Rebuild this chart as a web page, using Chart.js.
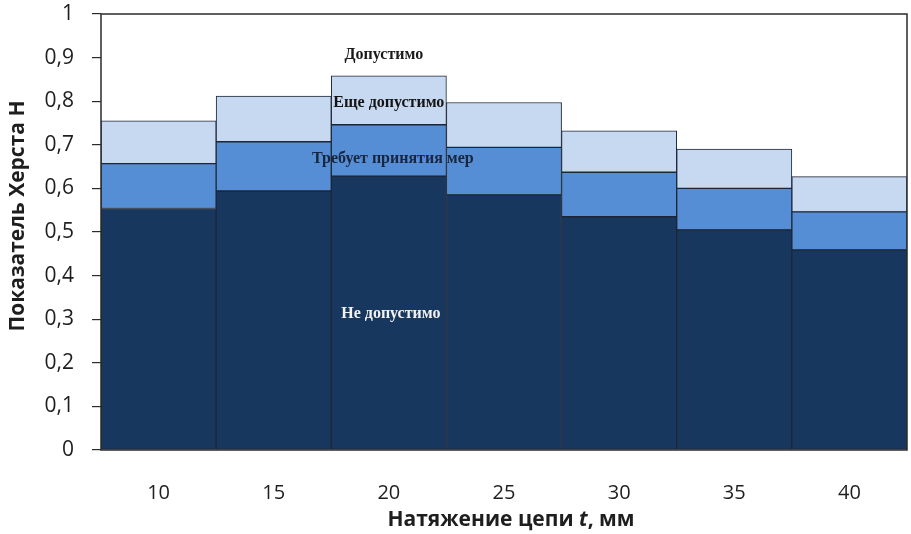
<!DOCTYPE html>
<html>
<head>
<meta charset="utf-8">
<script src="https://cdn.jsdelivr.net/npm/chart.js@4/dist/chart.umd.min.js"></script>
<style>
  html, body { margin: 0; padding: 0; background: #ffffff; }
  #wrap { width: 911px; height: 534px; position: relative; }
</style>
</head>
<body>
<div id="wrap"><canvas id="chart"></canvas></div>
<script>
// Chain tension t, mm
const categories = ['10', '15', '20', '25', '30', '35', '40'];

// Upper boundary of each zone of the Hurst exponent H
const notAllowedTop   = [0.554, 0.594, 0.628, 0.585, 0.535, 0.505, 0.459];
const actionTop       = [0.657, 0.707, 0.746, 0.694, 0.637, 0.600, 0.546];
const stillAllowedTop = [0.755, 0.812, 0.858, 0.797, 0.732, 0.690, 0.627];

// Y axis tick values
const yTickValues = [0, 0.1, 0.2, 0.3, 0.4, 0.5, 0.6, 0.7, 0.8, 0.9, 1];

// Zone captions, written inside the 20 mm column
const zoneNames = ['Допустимо', 'Еще допустимо', 'Требует принятия мер', 'Не допустимо'];

const zoneCaptionStyle = [
  { value: 0.906, dx: -5, color: '#1a1a1a' },
  { value: 0.796, dx: 0,  color: '#141414' },
  { value: 0.668, dx: 4,  color: '#18263f' },
  { value: 0.312, dx: 2,  color: '#f2f2f2' }
];

const COLORS = {
  dark: '#17375E',
  mid: '#558ED5',
  light: '#C6D9F1',
  edge: '#1d2636',
  frame: '#2b2b2b',
  text: '#1e1e1e'
};

const SANS = '"Open Sans", Lato, sans-serif';

const floating = (lows, highs) => highs.map((h, i) => [lows ? lows[i] : 0, h]);

const barStyle = {
  borderColor: COLORS.edge,
  borderWidth: 1,
  borderSkipped: false,
  barPercentage: 1,
  categoryPercentage: 1
};

const frameAndText = {
  id: 'frameAndText',
  afterDatasetsDraw(chart) {
    const { ctx, chartArea: a, scales } = chart;

    // plot frame
    ctx.save();
    ctx.strokeStyle = COLORS.frame;
    ctx.lineWidth = 1.5;
    ctx.strokeRect(a.left, a.top, a.right - a.left, a.bottom - a.top);
    ctx.restore();

    // zone captions
    ctx.save();
    ctx.font = 'bold 16px "Liberation Serif", "Times New Roman", serif';
    ctx.textAlign = 'center';
    ctx.textBaseline = 'middle';
    const cx = scales.x.getPixelForValue(2);
    zoneNames.forEach((name, i) => {
      const s = zoneCaptionStyle[i];
      ctx.fillStyle = s.color;
      ctx.fillText(name, cx + s.dx, scales.y.getPixelForValue(s.value));
    });
    ctx.restore();
  },
  afterDraw(chart) {
    const { ctx, chartArea: a } = chart;
    ctx.save();
    ctx.fillStyle = COLORS.text;
    ctx.textBaseline = 'middle';

    // y axis title
    ctx.save();
    ctx.translate(18, (a.top + a.bottom) / 2 - 16);
    ctx.rotate(-Math.PI / 2);
    ctx.font = 'bold 21px ' + SANS;
    ctx.textAlign = 'center';
    ctx.fillText('Показатель Херста Н', 0, 0);
    ctx.restore();

    // x axis title with italic variable
    const parts = [
      { t: 'Натяжение цепи ', f: 'bold 21px ' + SANS },
      { t: 't', f: 'italic bold 21px ' + SANS },
      { t: ', мм', f: 'bold 21px ' + SANS }
    ];
    let total = 0;
    parts.forEach(p => { ctx.font = p.f; p.w = ctx.measureText(p.t).width; total += p.w; });
    let x = 511 - total / 2;
    ctx.textAlign = 'left';
    parts.forEach(p => { ctx.font = p.f; ctx.fillText(p.t, x, 520); x += p.w; });
    ctx.restore();
  }
};

new Chart(document.getElementById('chart'), {
  type: 'bar',
  data: {
    labels: categories,
    datasets: [
      Object.assign({ label: zoneNames[3], data: floating(null, notAllowedTop), backgroundColor: COLORS.dark }, barStyle),
      Object.assign({ label: zoneNames[2], data: floating(notAllowedTop, actionTop), backgroundColor: COLORS.mid }, barStyle),
      Object.assign({ label: zoneNames[1], data: floating(actionTop, stillAllowedTop), backgroundColor: COLORS.light }, barStyle)
    ]
  },
  options: {
    responsive: true,
    maintainAspectRatio: false,
    animation: false,
    layout: { padding: { left: 0, top: 14, right: 4, bottom: 0 } },
    plugins: {
      legend: { display: false },
      tooltip: { enabled: false }
    },
    scales: {
      x: {
        stacked: true,
        offset: true,
        grid: { display: false, drawTicks: false },
        border: { display: false },
        ticks: { padding: 31, color: COLORS.text, font: { family: SANS, size: 20 } },
        afterFit(scale) { scale.height = 84; }
      },
      y: {
        stacked: false,
        min: 0,
        max: 1,
        afterBuildTicks(scale) { scale.ticks = yTickValues.map(v => ({ value: v })); },
        grid: {
          drawOnChartArea: false,
          drawTicks: true,
          tickLength: 9,
          color: COLORS.frame,
          lineWidth: 1.2
        },
        border: { display: false },
        ticks: {
          padding: 18,
          color: COLORS.text,
          font: { family: SANS, size: 21 },
          callback: v => (v === 0 || v === 1) ? String(v) : v.toFixed(1).replace('.', ',')
        },
        afterFit(scale) {
          scale.width = 101;
          scale.paddingTop = 0;
          scale.paddingBottom = 0;
        }
      }
    }
  },
  plugins: [frameAndText]
});
</script>
</body>
</html>
